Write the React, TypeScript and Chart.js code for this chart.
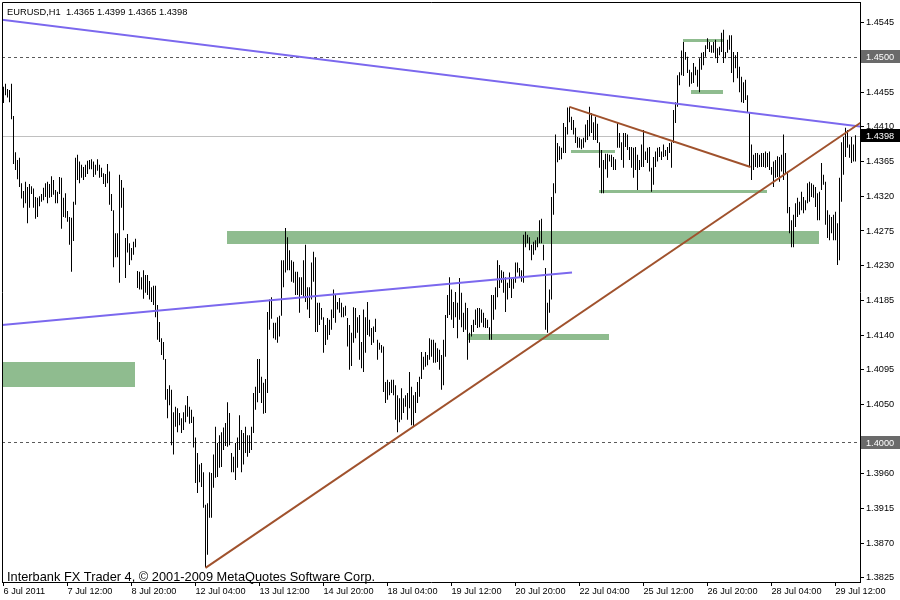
import React, { useEffect, useRef } from 'react';
import { Chart, registerables } from 'chart.js';

Chart.register(...registerables);

const FONT = '"Liberation Sans", Arial, sans-serif';

// ---- Axis ticks ----
const xTickIndex = [0, 32, 64, 96, 128, 160, 192, 224, 256, 288, 320, 352, 384, 416];
const xTickLabels = [
  '6 Jul 2011', '7 Jul 12:00', '8 Jul 20:00', '12 Jul 04:00', '13 Jul 12:00', '14 Jul 20:00',
  '18 Jul 04:00', '19 Jul 12:00', '20 Jul 20:00', '22 Jul 04:00', '25 Jul 12:00', '26 Jul 20:00',
  '28 Jul 04:00', '29 Jul 12:00',
];
const yTicks = [
  1.3825, 1.387, 1.3915, 1.396, 1.4005, 1.405, 1.4095, 1.414, 1.4185, 1.423, 1.4275,
  1.432, 1.4365, 1.441, 1.4455, 1.45, 1.4545,
];

// ---- EURUSD H1 highs / lows (6 Jul 04:00 .. 29 Jul 22:00) ----
const highsW1 = [
  1.4462, 1.4466, 1.4459, 1.4458, 1.4466, 1.4424, 1.4377, 1.4367, 1.4370, 1.4337,
  1.4327, 1.4339, 1.4332, 1.4336, 1.4333, 1.4330, 1.4319, 1.4318, 1.4320, 1.4323,
  1.4331, 1.4337, 1.4339, 1.4336, 1.4346, 1.4341, 1.4328, 1.4326, 1.4345, 1.4344,
  1.4318, 1.4324, 1.4301, 1.4293, 1.4292, 1.4313, 1.4370, 1.4374, 1.4365, 1.4361,
  1.4358, 1.4361, 1.4366, 1.4367, 1.4368, 1.4365, 1.4361, 1.4368, 1.4361, 1.4357,
  1.4350, 1.4349, 1.4362, 1.4352, 1.4323, 1.4302, 1.4272, 1.4272, 1.4348, 1.4341,
  1.4331, 1.4266, 1.4271, 1.4259, 1.4253, 1.4261, 1.4265, 1.4223,
];
const lowsW1 = [
  1.4441, 1.4451, 1.4448, 1.4442, 1.4420, 1.4362, 1.4354, 1.4342, 1.4332, 1.4317,
  1.4305, 1.4311, 1.4285, 1.4305, 1.4323, 1.4305, 1.4291, 1.4293, 1.4307, 1.4313,
  1.4315, 1.4319, 1.4311, 1.4318, 1.4319, 1.4322, 1.4311, 1.4311, 1.4323, 1.4278,
  1.4293, 1.4292, 1.4287, 1.4257, 1.4222, 1.4262, 1.4309, 1.4341, 1.4337, 1.4344,
  1.4341, 1.4345, 1.4349, 1.4355, 1.4355, 1.4345, 1.4348, 1.4353, 1.4344, 1.4345,
  1.4336, 1.4332, 1.4337, 1.4309, 1.4301, 1.4228, 1.4241, 1.4241, 1.4208, 1.4305,
  1.4276, 1.4214, 1.4247, 1.4231, 1.4237, 1.4244, 1.4254, 1.4201,
];
const highsW2 = [
  1.4222, 1.4215, 1.4224, 1.4218, 1.4218, 1.4210, 1.4202, 1.4204, 1.4204, 1.4179,
  1.4157, 1.4136, 1.4131, 1.4109, 1.4070, 1.4075, 1.4069, 1.4040, 1.4047, 1.4045,
  1.4039, 1.4032, 1.4040, 1.4049, 1.4061, 1.4047, 1.4043, 1.4034, 1.4007, 1.3987,
  1.3972, 1.3974, 1.3962, 1.3920, 1.3922, 1.3962, 1.3961, 1.3985, 1.4021, 1.4000,
  1.4010, 1.4014, 1.4020, 1.4026, 1.4053, 1.4039, 1.3987, 1.3982, 1.4000, 1.4007,
  1.4036, 1.4017, 1.4013, 1.4021, 1.4010, 1.4010, 1.4021, 1.4065, 1.4073, 1.4109,
  1.4109, 1.4086, 1.4078, 1.4083, 1.4170, 1.4186, 1.4189, 1.4156, 1.4156, 1.4163,
  1.4165, 1.4237, 1.4237, 1.4279, 1.4267, 1.4250, 1.4237, 1.4235, 1.4222, 1.4222,
  1.4215, 1.4215, 1.4237, 1.4257, 1.4202, 1.4202, 1.4234, 1.4248, 1.4241, 1.4182,
  1.4182, 1.4175, 1.4163, 1.4153, 1.4162, 1.4160, 1.4173, 1.4199, 1.4192, 1.4183,
  1.4188, 1.4182, 1.4176, 1.4178, 1.4162, 1.4153, 1.4143, 1.4176, 1.4175, 1.4163,
  1.4166, 1.4131, 1.4173, 1.4163, 1.4183, 1.4160, 1.4149, 1.4151, 1.4161, 1.4134,
];
const lowsW2 = [
  1.4199, 1.4199, 1.4187, 1.4195, 1.4192, 1.4186, 1.4183, 1.4179, 1.4163, 1.4134,
  1.4131, 1.4114, 1.4108, 1.4056, 1.4032, 1.4049, 1.3997, 1.3985, 1.4021, 1.4014,
  1.4023, 1.4013, 1.4017, 1.4027, 1.4034, 1.4025, 1.4026, 1.3994, 1.3948, 1.3935,
  1.3949, 1.3943, 1.3916, 1.3839, 1.3855, 1.3903, 1.3903, 1.3942, 1.3955, 1.3956,
  1.3968, 1.3969, 1.3991, 1.3996, 1.3995, 1.3997, 1.3962, 1.3962, 1.3952, 1.3968,
  1.3991, 1.3962, 1.3972, 1.3987, 1.3982, 1.3987, 1.3991, 1.4013, 1.4043, 1.4053,
  1.4065, 1.4052, 1.4038, 1.4039, 1.4065, 1.4147, 1.4161, 1.4136, 1.4134, 1.4130,
  1.4138, 1.4165, 1.4202, 1.4221, 1.4224, 1.4224, 1.4209, 1.4208, 1.4192, 1.4192,
  1.4169, 1.4192, 1.4189, 1.4183, 1.4173, 1.4162, 1.4186, 1.4209, 1.4144, 1.4144,
  1.4153, 1.4160, 1.4117, 1.4127, 1.4134, 1.4140, 1.4147, 1.4162, 1.4156, 1.4173,
  1.4169, 1.4163, 1.4163, 1.4165, 1.4125, 1.4095, 1.4100, 1.4130, 1.4136, 1.4143,
  1.4108, 1.4097, 1.4092, 1.4117, 1.4140, 1.4138, 1.4127, 1.4130, 1.4144, 1.4108,
];
const highsW3 = [
  1.4130, 1.4127, 1.4125, 1.4079, 1.4082, 1.4079, 1.4082, 1.4082, 1.4075, 1.4062,
  1.4058, 1.4071, 1.4058, 1.4062, 1.4065, 1.4092, 1.4073, 1.4062, 1.4066, 1.4079,
  1.4086, 1.4118, 1.4112, 1.4118, 1.4114, 1.4136, 1.4134, 1.4134, 1.4130, 1.4123,
  1.4121, 1.4114, 1.4134, 1.4166, 1.4192, 1.4215, 1.4199, 1.4183, 1.4196, 1.4182,
  1.4214, 1.4195, 1.4169, 1.4182, 1.4175, 1.4143, 1.4153, 1.4160, 1.4173, 1.4175,
  1.4175, 1.4173, 1.4169, 1.4162, 1.4160, 1.4150, 1.4192, 1.4192, 1.4202, 1.4237,
  1.4231, 1.4224, 1.4222, 1.4215, 1.4208, 1.4221, 1.4214, 1.4214, 1.4234, 1.4234,
  1.4227, 1.4224, 1.4270, 1.4274, 1.4270, 1.4267, 1.4257, 1.4261, 1.4263, 1.4267,
  1.4289, 1.4291, 1.4257, 1.4227, 1.4182, 1.4199, 1.4319, 1.4337, 1.4400, 1.4389,
  1.4385, 1.4383, 1.4415, 1.4410, 1.4435, 1.4436, 1.4423, 1.4419, 1.4409, 1.4397,
  1.4396, 1.4394, 1.4396, 1.4413, 1.4419, 1.4436, 1.4428, 1.4416, 1.4423, 1.4414,
  1.4390, 1.4380, 1.4367, 1.4375, 1.4375, 1.4374, 1.4374, 1.4371, 1.4368, 1.4415,
];
const lowsW3 = [
  1.4121, 1.4117, 1.4066, 1.4052, 1.4056, 1.4062, 1.4065, 1.4062, 1.4030, 1.4014,
  1.4027, 1.4030, 1.4039, 1.4047, 1.4030, 1.4045, 1.4023, 1.4021, 1.4039, 1.4052,
  1.4060, 1.4083, 1.4095, 1.4099, 1.4101, 1.4108, 1.4112, 1.4104, 1.4104, 1.4105,
  1.4095, 1.4069, 1.4075, 1.4112, 1.4162, 1.4166, 1.4160, 1.4149, 1.4163, 1.4136,
  1.4160, 1.4150, 1.4144, 1.4147, 1.4108, 1.4130, 1.4138, 1.4144, 1.4153, 1.4149,
  1.4150, 1.4156, 1.4150, 1.4149, 1.4149, 1.4134, 1.4134, 1.4160, 1.4173, 1.4189,
  1.4201, 1.4208, 1.4195, 1.4170, 1.4186, 1.4201, 1.4188, 1.4200, 1.4208, 1.4221,
  1.4215, 1.4209, 1.4208, 1.4254, 1.4259, 1.4250, 1.4237, 1.4244, 1.4250, 1.4254,
  1.4259, 1.4259, 1.4237, 1.4147, 1.4143, 1.4169, 1.4186, 1.4296, 1.4324, 1.4364,
  1.4367, 1.4368, 1.4376, 1.4376, 1.4400, 1.4416, 1.4406, 1.4400, 1.4389, 1.4383,
  1.4383, 1.4381, 1.4383, 1.4390, 1.4393, 1.4398, 1.4402, 1.4393, 1.4393, 1.4389,
  1.4357, 1.4324, 1.4324, 1.4355, 1.4344, 1.4365, 1.4358, 1.4354, 1.4354, 1.4383,
];
const highsW4 = [
  1.4402, 1.4390, 1.4402, 1.4402, 1.4400, 1.4384, 1.4384, 1.4383, 1.4384, 1.4374,
  1.4367, 1.4387, 1.4406, 1.4378, 1.4383, 1.4384, 1.4357, 1.4371, 1.4378, 1.4383,
  1.4384, 1.4378, 1.4387, 1.4380, 1.4384, 1.4389, 1.4390, 1.4432, 1.4442, 1.4477,
  1.4481, 1.4509, 1.4520, 1.4507, 1.4501, 1.4484, 1.4481, 1.4493, 1.4488, 1.4484,
  1.4499, 1.4506, 1.4507, 1.4516, 1.4525, 1.4520, 1.4516, 1.4520, 1.4523, 1.4512,
  1.4514, 1.4532, 1.4536, 1.4507, 1.4523, 1.4529, 1.4529, 1.4507, 1.4503, 1.4507,
  1.4488, 1.4475, 1.4468, 1.4471, 1.4451, 1.4428, 1.4387, 1.4374, 1.4376, 1.4376,
  1.4374, 1.4376, 1.4376, 1.4378, 1.4376, 1.4378, 1.4358, 1.4365, 1.4367, 1.4372,
  1.4371, 1.4374, 1.4400, 1.4376, 1.4352, 1.4306, 1.4289, 1.4296, 1.4311, 1.4318,
  1.4313, 1.4326, 1.4319, 1.4315, 1.4337, 1.4339, 1.4337, 1.4335, 1.4332, 1.4324,
  1.4326, 1.4363, 1.4348, 1.4339, 1.4302, 1.4296, 1.4293, 1.4296, 1.4300, 1.4285,
  1.4344, 1.4390, 1.4397, 1.4409, 1.4406, 1.4387, 1.4397, 1.4387, 1.4399,
];
const lowsW4 = [
  1.4383, 1.4367, 1.4357, 1.4384, 1.4380, 1.4367, 1.4357, 1.4344, 1.4354, 1.4328,
  1.4354, 1.4358, 1.4358, 1.4367, 1.4363, 1.4352, 1.4326, 1.4335, 1.4358, 1.4365,
  1.4371, 1.4367, 1.4371, 1.4372, 1.4367, 1.4376, 1.4357, 1.4389, 1.4415, 1.4436,
  1.4464, 1.4477, 1.4476, 1.4497, 1.4480, 1.4462, 1.4466, 1.4467, 1.4477, 1.4462,
  1.4455, 1.4484, 1.4490, 1.4501, 1.4511, 1.4507, 1.4506, 1.4506, 1.4499, 1.4493,
  1.4503, 1.4507, 1.4493, 1.4499, 1.4506, 1.4510, 1.4480, 1.4468, 1.4486, 1.4473,
  1.4455, 1.4442, 1.4441, 1.4445, 1.4428, 1.4358, 1.4341, 1.4354, 1.4358, 1.4357,
  1.4358, 1.4358, 1.4358, 1.4357, 1.4358, 1.4354, 1.4348, 1.4332, 1.4344, 1.4345,
  1.4339, 1.4352, 1.4341, 1.4350, 1.4298, 1.4272, 1.4254, 1.4254, 1.4280, 1.4293,
  1.4296, 1.4302, 1.4298, 1.4302, 1.4311, 1.4313, 1.4319, 1.4318, 1.4306, 1.4289,
  1.4289, 1.4328, 1.4335, 1.4283, 1.4266, 1.4263, 1.4272, 1.4263, 1.4263, 1.4231,
  1.4237, 1.4313, 1.4348, 1.4371, 1.4383, 1.4370, 1.4363, 1.4365, 1.4365,
];

// ---- Chart objects (bar index, price) ----
const purpleLongLine = [[-1, 1.4549], [430, 1.441]];
const purpleShortLine = [[-1, 1.4153], [284.25, 1.4221]];
const brownRisingLine = [[101, 1.3838], [430, 1.4418]];
const brownFallingLine = [[283, 1.4436], [373.5, 1.4358]];
// [fromIndex, toIndex, lowPrice, highPrice]
const greenZones = [
  [-1, 65.75, 1.4072, 1.4105],
  [111.75, 407.6, 1.4258, 1.4275],
  [231.9, 302.75, 1.4134, 1.4142],
  [297.75, 381.6, 1.4324, 1.4328],
  [283.75, 305.75, 1.4376, 1.438],
  [339.9, 359.6, 1.452, 1.4524],
  [343.75, 359.6, 1.4453, 1.4458],
];
const dashedLevels = [1.45, 1.4];
const bidPrice = 1.4398;
const lastBar = { open: 1.4365, high: 1.4399, low: 1.4365, close: 1.4398 };

export default function App() {
  const ref = useRef<HTMLCanvasElement | null>(null);

  useEffect(() => {
    if (!ref.current) return;
    const highs = [...highsW1, ...highsW2, ...highsW3, ...highsW4];
    const lows = [...lowsW1, ...lowsW2, ...lowsW3, ...lowsW4];
    const bars = highs.map((h, i) => ({ x: i, y: [lows[i], h] }));

    const overlay = {
      id: 'mt4overlay',
      beforeDatasetsDraw(chart: any) {
        const { ctx, chartArea: a, scales } = chart;
        const px = (v: number) => scales.x.getPixelForValue(v);
        const py = (v: number) => scales.y.getPixelForValue(v);
        ctx.save();
        ctx.beginPath();
        ctx.rect(a.left, a.top, a.right - a.left, a.bottom - a.top);
        ctx.clip();
        ctx.fillStyle = '#8FBC8F';
        greenZones.forEach(([i1, i2, lo, hi]) => {
          const x1 = Math.round(px(i1));
          const x2 = Math.round(px(i2));
          const y1 = Math.round(py(hi));
          const y2 = Math.round(py(lo));
          ctx.fillRect(x1, y1, x2 - x1, Math.max(3, y2 - y1));
        });
        ctx.lineWidth = 1;
        ctx.strokeStyle = '#5a5a5a';
        ctx.setLineDash([3, 3]);
        dashedLevels.forEach((p) => {
          const y = Math.floor(py(p)) + 0.5;
          ctx.beginPath();
          ctx.moveTo(a.left, y);
          ctx.lineTo(a.right, y);
          ctx.stroke();
        });
        ctx.setLineDash([]);
        ctx.strokeStyle = '#C0C0C0';
        const yb = Math.floor(py(bidPrice)) + 0.5;
        ctx.beginPath();
        ctx.moveTo(a.left, yb);
        ctx.lineTo(a.right, yb);
        ctx.stroke();
        ctx.restore();
      },
      afterDatasetsDraw(chart: any) {
        const { ctx, chartArea: a, scales } = chart;
        const px = (v: number) => scales.x.getPixelForValue(v);
        const py = (v: number) => scales.y.getPixelForValue(v);
        ctx.save();
        ctx.beginPath();
        ctx.rect(a.left, a.top, a.right - a.left, a.bottom - a.top);
        ctx.clip();
        const line = (pts: number[][], color: string) => {
          ctx.strokeStyle = color;
          ctx.lineWidth = 2;
          ctx.beginPath();
          ctx.moveTo(px(pts[0][0]), py(pts[0][1]));
          ctx.lineTo(px(pts[1][0]), py(pts[1][1]));
          ctx.stroke();
        };
        line(purpleLongLine, '#7B68EE');
        line(purpleShortLine, '#7B68EE');
        line(brownRisingLine, '#A0522D');
        line(brownFallingLine, '#A0522D');
        ctx.restore();
      },
      afterDraw(chart: any) {
        const { ctx, chartArea: a, scales } = chart;
        const py = (v: number) => scales.y.getPixelForValue(v);
        ctx.save();
        // frame
        ctx.strokeStyle = '#000';
        ctx.lineWidth = 1;
        ctx.beginPath();
        ctx.moveTo(a.left + 0.5, a.bottom);
        ctx.lineTo(a.left + 0.5, a.top + 0.5);
        ctx.lineTo(a.right, a.top + 0.5);
        ctx.stroke();
        // price tags on the axis
        const tag = (p: number, bg: string) => {
          const y = py(p);
          ctx.fillStyle = bg;
          ctx.fillRect(a.right + 1, Math.round(y) - 7, 39, 13);
          ctx.fillStyle = '#fff';
          ctx.font = `9.2px ${FONT}`;
          ctx.textBaseline = 'middle';
          ctx.textAlign = 'left';
          ctx.fillText(p.toFixed(4), a.right + 6, y);
        };
        dashedLevels.forEach((p) => tag(p, '#6A6A6A'));
        tag(bidPrice, '#000');
        // title and copyright
        ctx.fillStyle = '#000';
        ctx.textBaseline = 'alphabetic';
        ctx.font = `9.3px ${FONT}`;
        ctx.fillText(
          `EURUSD,H1  ${lastBar.open.toFixed(4)} ${lastBar.high.toFixed(4)} ${lastBar.low.toFixed(4)} ${lastBar.close.toFixed(4)}`,
          a.left + 5, a.top + 12.5,
        );
        ctx.font = `12.8px ${FONT}`;
        ctx.fillText('Interbank FX Trader 4, \u00A9 2001-2009 MetaQuotes Software Corp.', a.left + 5, a.bottom - 1.5);
        ctx.restore();
      },
    };

    const chart = new Chart(ref.current, {
      type: 'bar',
      data: {
        datasets: [
          {
            data: bars as any,
            backgroundColor: '#000',
            borderWidth: 0,
            barThickness: 1,
            inflateAmount: 0,
            grouped: false,
          } as any,
        ],
      },
      options: {
        animation: false,
        responsive: false,
        maintainAspectRatio: false,
        layout: { padding: { left: 2, top: 2, right: 0, bottom: 0 } },
        plugins: { legend: { display: false }, tooltip: { enabled: false }, title: { display: false } },
        scales: {
          x: {
            type: 'linear',
            position: 'bottom',
            min: -0.75,
            max: 428.25,
            offset: false,
            grid: { drawOnChartArea: false, drawTicks: true, tickLength: 4, color: '#000', tickColor: '#000', offset: false },
            border: { display: true, color: '#000' },
            ticks: {
              align: 'start',
              maxRotation: 0,
              autoSkip: false,
              padding: 0,
              color: '#000',
              font: { family: FONT, size: 9.2 },
              callback: (v: any) => {
                const k = xTickIndex.indexOf(Number(v));
                return k >= 0 ? xTickLabels[k] : '';
              },
            },
            afterBuildTicks: (s: any) => {
              s.ticks = xTickIndex.map((v) => ({ value: v }));
            },
            afterFit: (s: any) => {
              s.height = 18;
              s.paddingLeft = 0;
              s.paddingRight = 0;
            },
          } as any,
          y: {
            type: 'linear',
            position: 'right',
            min: 1.381971,
            max: 1.457198,
            grid: { drawOnChartArea: false, drawTicks: true, tickLength: 4, color: '#000', tickColor: '#000' },
            border: { display: true, color: '#000' },
            ticks: {
              padding: 2,
              color: '#000',
              font: { family: FONT, size: 9.2 },
              callback: (v: any) => Number(v).toFixed(4),
            },
            afterBuildTicks: (s: any) => {
              s.ticks = yTicks.map((v) => ({ value: v }));
            },
            afterFit: (s: any) => {
              s.width = 40;
              s.paddingTop = 0;
              s.paddingBottom = 0;
            },
          } as any,
        },
      },
      plugins: [overlay],
    });
    return () => chart.destroy();
  }, []);

  return (
    <div style={{ position: 'fixed', left: 0, top: 0, width: 900, height: 600, background: '#fff' }}>
      <canvas ref={ref} width={900} height={600} style={{ display: 'block' }} />
    </div>
  );
}
